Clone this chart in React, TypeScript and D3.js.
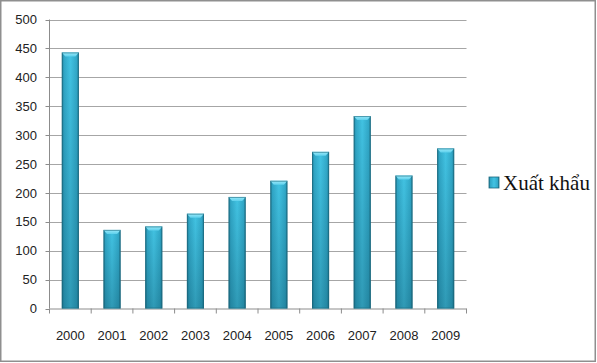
import * as d3 from "d3";

const years = ["2000", "2001", "2002", "2003", "2004", "2005", "2006", "2007", "2008", "2009"];
const exportValues = [443, 136, 142, 164, 193, 221, 271, 333, 230, 277];
const yTicks = [0, 50, 100, 150, 200, 250, 300, 350, 400, 450, 500];
const seriesName = "Xuất khẩu";

const W = 597;
const H = 363;

export default function App() {
  const plot = { left: 49.5, right: 466.5, top: 19.5, bottom: 308.5 };

  const y = d3.scaleLinear().domain([0, 500]).range([plot.bottom, plot.top]);
  const x = d3.scaleBand().domain(years).range([plot.left, plot.right]).padding(0);
  const barW = x.bandwidth() * 0.41;

  const tickFont = "'Liberation Sans', Arial, sans-serif";

  return (
    <div style={{ position: "absolute", left: 0, top: 0 }}>
      <svg width={W} height={H} style={{ display: "block" }}>
        <defs>
          <linearGradient id="barH" x1="0" y1="0" x2="1" y2="0">
            <stop offset="0" stopColor="#1d7189" />
            <stop offset="0.12" stopColor="#30a6c6" />
            <stop offset="0.5" stopColor="#42c3e3" />
            <stop offset="0.88" stopColor="#31a8c8" />
            <stop offset="1" stopColor="#1d7189" />
          </linearGradient>
          <linearGradient id="barV" x1="0" y1="0" x2="0" y2="1">
            <stop offset="0" stopColor="#003040" stopOpacity="0" />
            <stop offset="1" stopColor="#003040" stopOpacity="0.28" />
          </linearGradient>
          <linearGradient id="cap" x1="0" y1="0" x2="0" y2="1">
            <stop offset="0" stopColor="#9aeafa" />
            <stop offset="1" stopColor="#5fd0ec" />
          </linearGradient>
        </defs>

        <rect x={0} y={0} width={W} height={H} fill="#ffffff" />

        {/* gridlines */}
        {yTicks.filter(t => t > 0).map(t => (
          <line key={"g" + t} x1={plot.left} x2={plot.right} y1={Math.round(y(t)) + 0.5} y2={Math.round(y(t)) + 0.5}
            stroke="#a6a6a6" strokeWidth={1.2} />
        ))}

        {/* y axis */}
        <line x1={plot.left} x2={plot.left} y1={plot.top} y2={plot.bottom} stroke="#8c8c8c" strokeWidth={1} />
        {yTicks.map(t => (
          <g key={"y" + t}>
            <line x1={plot.left - 4} x2={plot.left} y1={Math.round(y(t)) + 0.5} y2={Math.round(y(t)) + 0.5} stroke="#8c8c8c" />
            <text x={37} y={y(t)} dy="0.36em" textAnchor="end" fontFamily={tickFont} fontSize={13} fill="#222">{t}</text>
          </g>
        ))}

        {/* x axis */}
        <line x1={plot.left} x2={plot.right} y1={plot.bottom + 0.5} y2={plot.bottom + 0.5} stroke="#8c8c8c" />
        {[...years.map(d => x(d)!), plot.right].map((px, i) => (
          <line key={"xt" + i} x1={px} x2={px} y1={plot.bottom} y2={plot.bottom + 5} stroke="#8c8c8c" />
        ))}
        {years.map(d => (
          <text key={"xl" + d} x={x(d)! + x.bandwidth() / 2} y={339.5} textAnchor="middle" fontFamily={tickFont} fontSize={13} fill="#222">{d}</text>
        ))}

        {/* bars */}
        {years.map((d, i) => {
          const bx = x(d)! + (x.bandwidth() - barW) / 2;
          const by = y(exportValues[i]);
          const bh = plot.bottom - by;
          const capH = 4;
          return (
            <g key={"b" + d}>
              <rect x={bx} y={by} width={barW} height={bh} fill="url(#barH)" />
              <rect x={bx} y={by} width={barW} height={bh} fill="url(#barV)" />
              <polygon
                points={`${bx},${by} ${bx + barW},${by} ${bx + barW - 3.5},${by + capH} ${bx + 3.5},${by + capH}`}
                fill="url(#cap)" />
              <rect x={bx + 0.5} y={by + 0.5} width={barW - 1} height={bh - 1} fill="none" stroke="#1c6a80" strokeOpacity={0.6} />
            </g>
          );
        })}

        {/* legend */}
        <rect x={489} y={177} width={10} height={11} fill="url(#barH)" stroke="#1c6a80" strokeWidth={0.8} />
        <text x={503} y={190} fontFamily="'Liberation Serif', 'Times New Roman', serif" fontSize={21} fill="#111">{seriesName}</text>

        {/* outer frame */}
        <rect x={0.75} y={0.75} width={W - 2.5} height={H - 2.5} fill="none" stroke="#8f8f8f" strokeWidth={1.5} />
      </svg>
    </div>
  );
}
